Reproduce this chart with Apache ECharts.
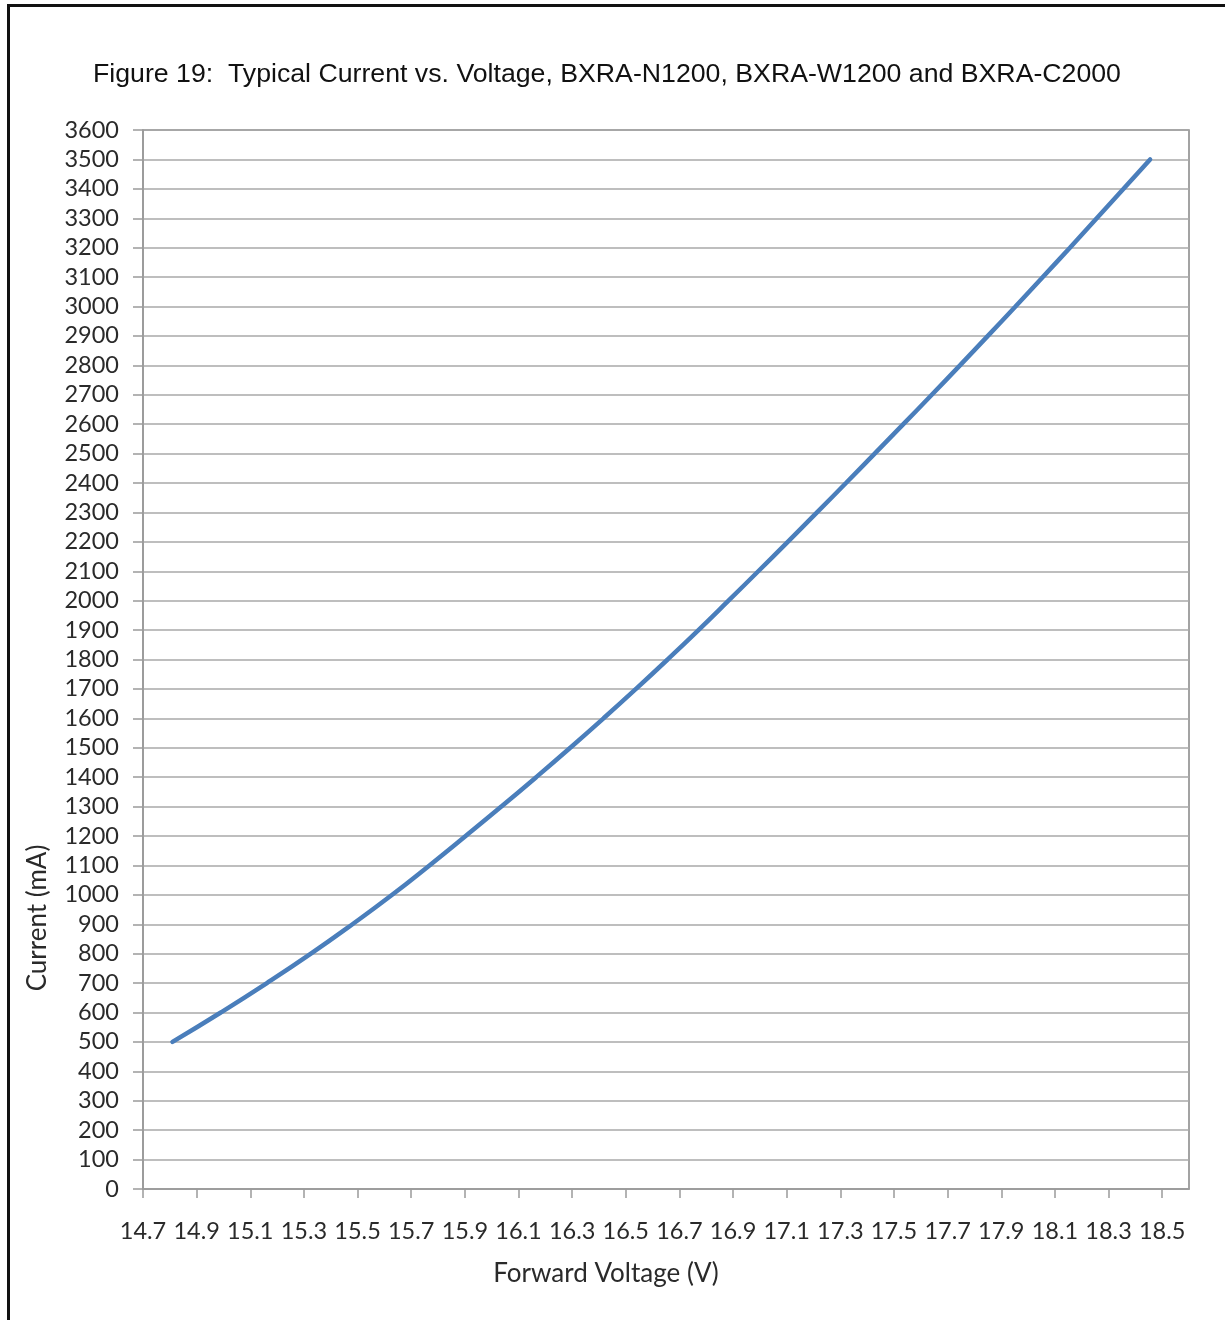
<!DOCTYPE html>
<html>
<head>
<meta charset="utf-8">
<script src="https://cdn.jsdelivr.net/npm/echarts@6/dist/echarts.min.js"></script>
<style>
html,body{margin:0;padding:0;background:#fff;overflow:hidden;}
#chart{width:1225px;height:1320px;}
</style>
</head>
<body>
<div id="chart"></div>
<script>
// Forward voltage (V)
const voltage = [14.810, 14.990, 15.162, 15.326, 15.481, 15.629, 15.768, 15.903, 16.036, 16.166,
  16.293, 16.417, 16.538, 16.656, 16.771, 16.883, 16.994, 17.104, 17.213, 17.321,
  17.428, 17.535, 17.641, 17.746, 17.850, 17.953, 18.055, 18.156, 18.256, 18.356, 18.455];
// Current (mA)
const current = [500, 600, 700, 800, 900, 1000, 1100, 1200, 1300, 1400,
  1500, 1600, 1700, 1800, 1900, 2000, 2100, 2200, 2300, 2400,
  2500, 2600, 2700, 2800, 2900, 3000, 3100, 3200, 3300, 3400, 3500];
// X tick labels
const xTicks = [14.7, 14.9, 15.1, 15.3, 15.5, 15.7, 15.9, 16.1, 16.3, 16.5,
  16.7, 16.9, 17.1, 17.3, 17.5, 17.7, 17.9, 18.1, 18.3, 18.5];
const titleText = 'Figure 19:  Typical Current vs. Voltage, BXRA-N1200, BXRA-W1200 and BXRA-C2000';
const xName = 'Forward Voltage (V)';
const yName = 'Current (mA)';

const chart = echarts.init(document.getElementById('chart'), null, {renderer: 'canvas'});
const labelFont = 'Lato';
chart.setOption({
  animation: false,
  backgroundColor: '#fff',
  grid: {left: 143, top: 130, right: 36, bottom: 131, show: true, borderColor: '#858585', borderWidth: 1.5, containLabel: false},
  xAxis: {
    type: 'value', min: 14.7, max: 18.6,
    axisLine: {show: true, onZero: false, lineStyle: {color: '#9a9a9a', width: 1.5}},
    axisTick: {show: true, length: 9, customValues: xTicks, lineStyle: {color: '#9a9a9a', width: 1.5}},
    axisLabel: {customValues: xTicks, margin: 30, fontFamily: labelFont, fontSize: 23.5, color: '#2a2a2a',
      formatter: v => v.toFixed(1)},
    splitLine: {show: false}
  },
  yAxis: {
    type: 'value', min: 0, max: 3600, interval: 100,
    axisLine: {show: true, lineStyle: {color: '#9a9a9a', width: 1.5}},
    axisTick: {show: true, length: 10, lineStyle: {color: '#9a9a9a', width: 1.5}},
    axisLabel: {margin: 24, fontFamily: labelFont, fontSize: 23.5, color: '#2a2a2a',
      formatter: v => String(v)},
    splitLine: {show: true, lineStyle: {color: '#a8a8a8', width: 1.5}}
  },
  graphic: [
    {type: 'rect', silent: true, shape: {x: 8.5, y: 5.5, width: 1400, height: 1500},
      style: {fill: 'none', stroke: '#111', lineWidth: 3}},
    {type: 'text', x: 93, y: 75, silent: true,
      style: {text: titleText, font: '26.7px "Liberation Sans", Arial, sans-serif', fill: '#111',
        textAlign: 'left', textVerticalAlign: 'middle'}},
    {type: 'text', x: 606, y: 1274, silent: true,
      style: {text: xName, font: '26px Lato', fill: '#2a2a2a', textAlign: 'center', textVerticalAlign: 'middle'}},
    {type: 'text', x: 38, y: 918, rotation: Math.PI / 2, silent: true,
      style: {text: yName, font: '26px Lato', fill: '#2a2a2a', textAlign: 'center', textVerticalAlign: 'middle'}}
  ],
  series: [{
    type: 'line', smooth: true, showSymbol: false,
    data: voltage.map((v, i) => [v, current[i]]),
    lineStyle: {color: '#4a7ebb', width: 4.5, cap: 'round'}
  }]
});
</script>
</body>
</html>
